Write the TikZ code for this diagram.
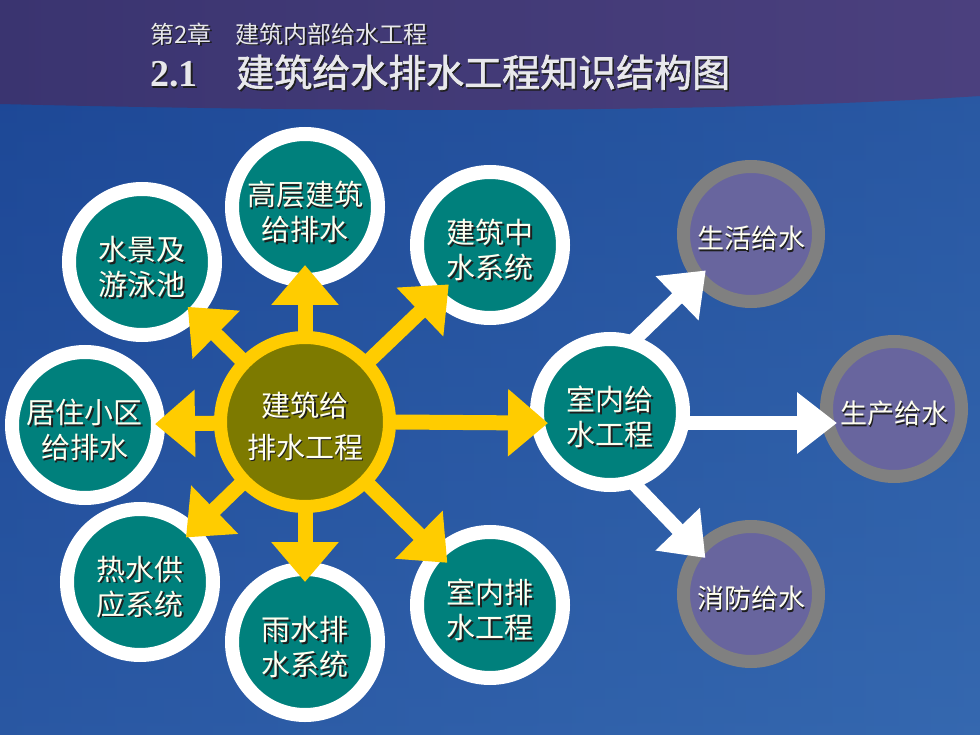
\documentclass[tikz,border=0pt]{standalone}
\usepackage{fontspec}
\setmainfont{Noto Sans CJK SC}
\newfontfamily\titlecjk{Noto Sans CJK SC}[FakeBold=1.6]
\newfontfamily\tnr{Liberation Serif}
\usetikzlibrary{arrows.meta}
\definecolor{bgA}{HTML}{1C4695}
\definecolor{bgB}{HTML}{3164AC}
\definecolor{bgC}{HTML}{3A6DB4}
\definecolor{hdA}{HTML}{3A3470}
\definecolor{hdB}{HTML}{4B407E}
\definecolor{tealc}{HTML}{00807C}
\definecolor{olivec}{HTML}{7D7A00}
\definecolor{ycol}{HTML}{FFCC00}
\definecolor{purpc}{HTML}{68659E}
\definecolor{grayc}{HTML}{808080}
\definecolor{txtc}{HTML}{FFFFF0}
\definecolor{shdc}{HTML}{1E1E1E}
\definecolor{ttlc}{HTML}{E8E8EC}
\pgfdeclarelayer{bgl}
\pgfdeclarelayer{satl}
\pgfdeclarelayer{arrl}
\pgfsetlayers{bgl,satl,arrl,main}
\newcommand\shd[2][1.5pt]{\makebox[0pt][l]{\hspace*{#1}\raisebox{-#1}{\color{shdc}#2}}#2}
\newcommand\tl[2][36pt]{\rule{0pt}{#1}\shd{#2}}
\begin{document}
\begin{tikzpicture}[x=1pt,y=-1pt,
  tealn/.style={circle, fill=tealc, draw=white, line width=14pt, minimum size=146pt,
    inner sep=0pt, align=center, text=txtc, font=\fontsize{29}{35}\selectfont},
  purpn/.style={circle, fill=purpc, draw=grayc, line width=13pt, minimum size=135pt,
    inner sep=0pt, align=center, text=txtc, font=\fontsize{27}{32}\selectfont},
  ctrn/.style={circle, fill=olivec, draw=ycol, line width=13pt, minimum size=169pt,
    inner sep=0pt, align=center, text=txtc, font=\fontsize{29}{42}\selectfont},
  yarr/.style={draw=ycol, line width=15pt, shorten <=-6pt, -{Triangle[length=40pt,width=65pt]}},
  warr/.style={draw=white, line width=14pt, shorten <=-6pt, -{Triangle[length=40pt,width=59pt]}},
  ttl/.style={anchor=west, inner sep=0pt, text=ttlc}]
\useasboundingbox (0,0) rectangle (980,735);
\begin{pgfonlayer}{bgl}
\shade[left color=bgA, right color=bgB] (0,0) rectangle (980,735);
\shade[top color=bgA, bottom color=bgC, opacity=0.45] (0,0) rectangle (980,735);
\shade[left color=hdA, right color=hdB] (0,0) -- (980,0) -- (980,96)
  .. controls (700,114) and (330,112) .. (0,104) -- cycle;
\end{pgfonlayer}
% title
\node[ttl, font=\fontsize{24}{28}\selectfont] (sub) at (150,35) {\shd[1.5pt]{第2章　建筑内部给水工程}};
\node[ttl, font=\tnr\bfseries\fontsize{38}{44}\selectfont] (num) at (150,75) {\shd[1.5pt]{2.1}};
\node[ttl, font=\titlecjk\fontsize{38}{44}\selectfont] (ttext) at (236,73) {\shd[1.5pt]{建筑给水排水工程知识结构图}};
% centre
\node[ctrn] (ctr) at (305,422) {\tl[34pt]{建筑给}\\\shd{排水工程}};
\begin{pgfonlayer}{satl}
\node[tealn] (gc) at (305,207) {\tl{高层建筑}\\\shd{给排水}};
\node[tealn] (zs) at (490,245) {\tl{建筑中}\\\shd{水系统}};
\node[tealn] (sj) at (142,262) {\tl{水景及}\\\shd{游泳池}};
\node[tealn] (jz) at (85,425) {\tl{居住小区}\\\shd{给排水}};
\node[tealn] (rs) at (140,582) {\tl{热水供}\\\shd{应系统}};
\node[tealn] (ys) at (305,642) {\tl{雨水排}\\\shd{水系统}};
\node[tealn] (np) at (490,605) {\tl{室内排}\\\shd{水工程}};
\node[tealn] (ng) at (610,412) {\tl{室内给}\\\shd{水工程}};
\node[purpn] (sh) at (751,234) {\tl[33pt]{生活给水}};
\node[purpn] (sc) at (894,409) {\tl[33pt]{生产给水}};
\node[purpn] (xf) at (751,594) {\tl[33pt]{消防给水}};
\end{pgfonlayer}
\begin{pgfonlayer}{arrl}
\draw[yarr, shorten >=-22pt] (ctr) -- (gc);
\draw[yarr, shorten >=-23pt] (ctr) -- (zs);
\draw[yarr, shorten >=-16pt] (ctr) -- (sj);
\draw[yarr, shorten >=-10pt] (ctr) -- (jz);
\draw[yarr, shorten >=-16pt] (ctr) -- (rs);
\draw[yarr, shorten >=-20pt] (ctr) -- (ys);
\draw[yarr, shorten >=-20pt] (ctr) -- (np);
\draw[yarr, shorten >=-18pt] (ctr.east) -- ([yshift=-11pt]ng.west);
\draw[warr, shorten >=-16pt] (ng.70) -- (sh.220);
\draw[warr, shorten >=-16pt] (ng.-70) -- (xf.140);
\draw[warr, shorten >=-17pt] ([yshift=-11pt]ng.east) -- ([yshift=-14pt]sc.west);
\end{pgfonlayer}
\end{tikzpicture}
\end{document}
